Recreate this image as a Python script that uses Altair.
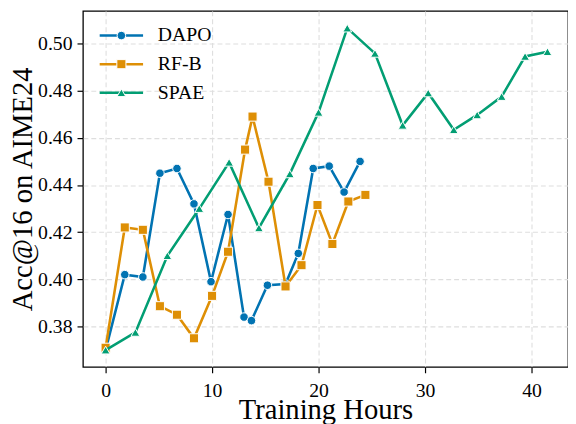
import altair as alt
import pandas as pd

FONT = "Liberation Serif, Times New Roman, serif"

names = ["DAPO", "RF-B", "SPAE"]
colors = ["#0173b2", "#de8f05", "#029e73"]
shapes = ["circle", "square", "triangle-up"]
sizes = [75, 85, 80]

dapo_x = [0, 1.8, 3.5, 5.1, 6.7, 8.3, 9.9, 11.5, 13.0, 13.7, 15.2, 16.9, 18.1, 19.5, 21.0, 22.4, 23.9]
dapo_y = [0.370, 0.402, 0.401, 0.445, 0.447, 0.432, 0.399, 0.4275, 0.384, 0.3825, 0.3975, 0.398, 0.411, 0.447, 0.448, 0.437, 0.450]

rfb_x = [0, 1.8, 3.5, 5.1, 6.7, 8.3, 10.0, 11.5, 13.1, 13.8, 15.3, 16.9, 18.4, 19.9, 21.3, 22.8, 24.4]
rfb_y = [0.371, 0.422, 0.421, 0.3886, 0.385, 0.375, 0.393, 0.4117, 0.455, 0.469, 0.4414, 0.397, 0.406, 0.4315, 0.415, 0.433, 0.4358]

spae_x = [0, 2.8, 5.8, 8.8, 11.6, 14.4, 17.3, 20.0, 22.7, 25.3, 27.9, 30.3, 32.7, 34.9, 37.2, 39.4, 41.5]
spae_y = [0.370, 0.3775, 0.410, 0.430, 0.4496, 0.4218, 0.4447, 0.4708, 0.5065, 0.4958, 0.4653, 0.479, 0.4634, 0.4697, 0.4775, 0.4945, 0.4965]

x_ticks = [0, 10, 20, 30, 40]
y_ticks = [0.38, 0.40, 0.42, 0.44, 0.46, 0.48, 0.50]

series = [(dapo_x, dapo_y), (rfb_x, rfb_y), (spae_x, spae_y)]

x_scale = alt.Scale(domain=[-2.13, 43.43], nice=False, zero=False)
y_scale = alt.Scale(domain=[0.3629, 0.5138], nice=False, zero=False)

x_axis = alt.Axis(values=x_ticks, title="Training Hours", format="d")
y_axis = alt.Axis(values=y_ticks, title="Acc@16 on AIME24", format=".2f")

layers = []
for name, color, shape, size, (xs, ys) in zip(names, colors, shapes, sizes, series):
    df = pd.DataFrame({"hours": xs, "acc": ys, "series": name})
    base = alt.Chart(df).encode(
        x=alt.X("hours:Q", scale=x_scale, axis=x_axis),
        y=alt.Y("acc:Q", scale=y_scale, axis=y_axis),
    )
    layers.append(base.mark_line(color=color, strokeWidth=2.6, clip=True))
    layers.append(base.mark_point(shape=shape, filled=True, fill=color, stroke="white",
                                  strokeWidth=1, size=size, opacity=1, clip=True))

# manual legend (line with marker in the middle, label to the right)
leg_rows = [25, 54, 83]
for name, color, shape, size, ry in zip(names, colors, shapes, sizes, leg_rows):
    ldf = pd.DataFrame({"series": [name]})
    lb = alt.Chart(ldf)
    layers.append(lb.mark_rule(color=color, strokeWidth=2.6).encode(
        x=alt.value(17), x2=alt.value(61), y=alt.value(ry)))
    layers.append(lb.mark_point(shape=shape, filled=True, fill=color, stroke="white",
                                strokeWidth=1, size=size, opacity=1).encode(
        x=alt.value(39), y=alt.value(ry)))
    layers.append(lb.mark_text(align="left", baseline="middle", font=FONT, fontSize=20,
                               color="black").encode(
        x=alt.value(76), y=alt.value(ry), text="series:N"))

chart = alt.layer(*layers).properties(
    width=492, height=361,
    autosize=alt.AutoSizeParams(type="none"),
    padding={"left": 76, "top": 0, "right": 0, "bottom": 55},
).configure_view(
    stroke="black", strokeWidth=1.3
).configure_axis(
    labelFont=FONT, titleFont=FONT, labelFontSize=20, titleFontSize=29,
    labelColor="black", titleColor="black", titleFontWeight="normal",
    domain=False, tickColor="black", tickSize=6, tickWidth=1.2,
    grid=True, gridColor="#dedede", gridDash=[5, 3], gridWidth=1.1,
).configure_axisY(
    labelPadding=5, titlePadding=0,
).configure_axisX(
    labelPadding=8, titlePadding=-5,
)

chart.save("out.html", embed_options={"renderer": "svg", "actions": False})
